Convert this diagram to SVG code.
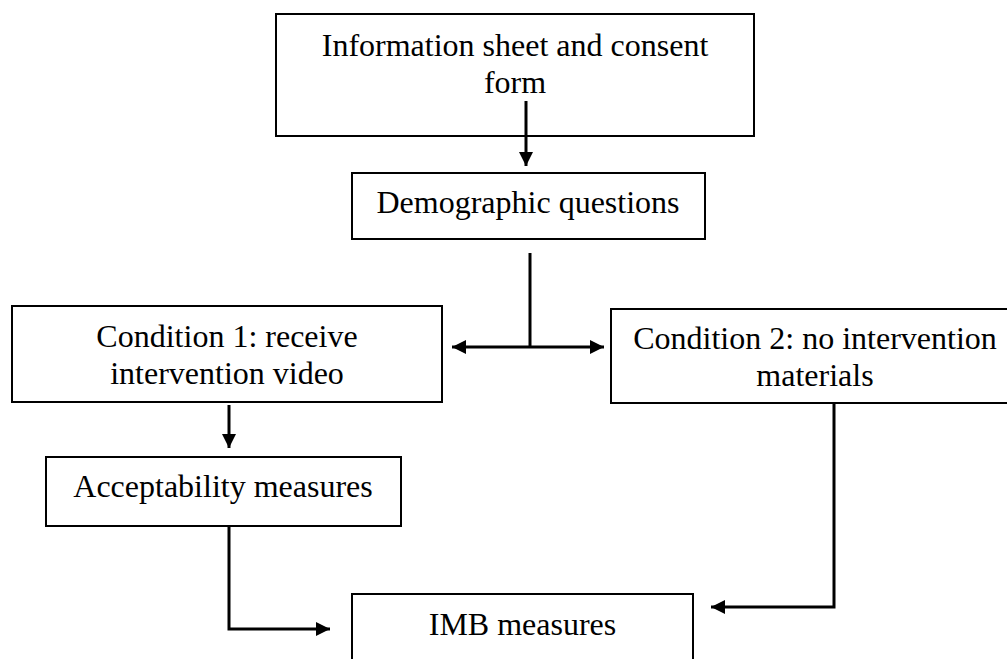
<svg xmlns="http://www.w3.org/2000/svg" width="1007" height="659" viewBox="0 0 1007 659">
  <style>
    .box { fill: #ffffff; stroke: #000000; stroke-width: 2; }
    .label { font-family: "Liberation Serif", "Times New Roman", serif; font-size: 32px; fill: #000000; text-anchor: middle; }
    .wire { fill: none; stroke: #000000; stroke-width: 3; }
  </style>
  <defs>
    <marker id="head" viewBox="0 0 14 14" refX="14" refY="7" markerWidth="14" markerHeight="14" markerUnits="userSpaceOnUse" orient="auto-start-reverse">
      <path d="M0,0 L14,7 L0,14 Z" fill="#000000"/>
    </marker>
  </defs>

  <rect width="1007" height="659" fill="#ffffff"/>

  <g id="info">
    <rect class="box" x="276" y="14" width="478" height="122"/>
    <text class="label" x="515" y="55.5">Information sheet and consent</text>
    <text class="label" x="515" y="92.5">form</text>
  </g>

  <g id="demographic">
    <rect class="box" x="352" y="173" width="353" height="66"/>
    <text class="label" x="528" y="212.5">Demographic questions</text>
  </g>

  <g id="condition1">
    <rect class="box" x="12" y="306" width="430" height="96"/>
    <text class="label" x="227" y="346.5">Condition 1: receive</text>
    <text class="label" x="227" y="384">intervention video</text>
  </g>

  <g id="condition2">
    <rect class="box" x="611" y="309" width="408" height="94"/>
    <text class="label" x="815" y="348.5">Condition 2: no intervention</text>
    <text class="label" x="815" y="386">materials</text>
  </g>

  <g id="acceptability">
    <rect class="box" x="46" y="457" width="355" height="69"/>
    <text class="label" x="223" y="496.5">Acceptability measures</text>
  </g>

  <g id="imb">
    <rect class="box" x="352" y="594" width="341" height="80"/>
    <text class="label" x="522.5" y="635">IMB measures</text>
  </g>

  <g id="connectors">
    <path class="wire" d="M526,101 L526,166" marker-end="url(#head)"/>
    <path class="wire" d="M530,253 L530,347"/>
    <path class="wire" d="M452,347 L604,347" marker-start="url(#head)" marker-end="url(#head)"/>
    <path class="wire" d="M229,405 L229,448" marker-end="url(#head)"/>
    <path class="wire" d="M229,526 L229,629 L330,629" marker-end="url(#head)"/>
    <path class="wire" d="M834,403 L834,607 L711,607" marker-end="url(#head)"/>
  </g>
</svg>
